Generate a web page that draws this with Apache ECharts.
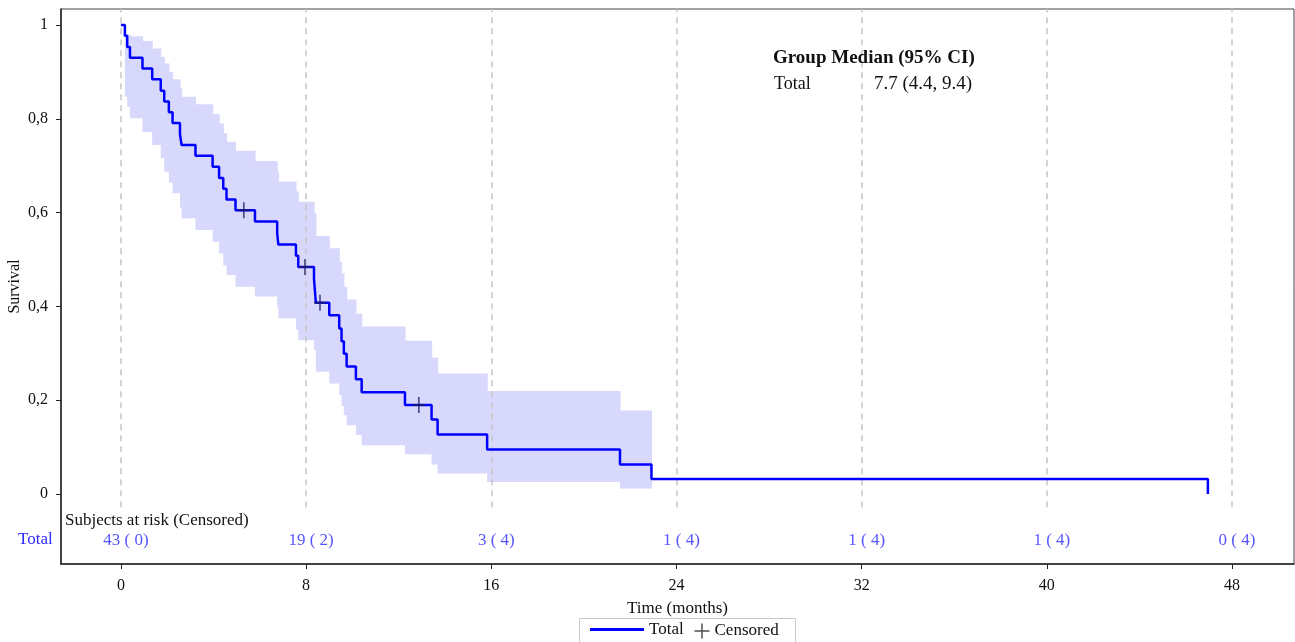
<!DOCTYPE html>
<html>
<head>
<meta charset="utf-8">
<script src="https://cdn.jsdelivr.net/npm/echarts@6/dist/echarts.min.js"></script>
<style>
  html, body { margin: 0; padding: 0; background: #fff; }
  #main { width: 1295px; height: 642px; }
</style>
</head>
<body>
<div id="main"></div>
<script>
// Kaplan-Meier data
var kmTimes = [0, 0.17, 0.27, 0.39, 0.93, 1.35, 1.72, 1.87, 2.07, 2.23, 2.55, 2.62, 3.22, 3.96, 4.24,
    4.42, 4.56, 4.95, 5.79, 6.75, 6.8, 7.56, 7.66, 8.34, 8.42, 9.0, 9.43, 9.53, 9.63, 9.75,
    10.15, 10.4, 12.27, 13.42, 13.68, 15.82, 21.56, 22.92, 46.96];
var kmSurv = [1, 0.977, 0.953, 0.930, 0.907, 0.884, 0.860, 0.837, 0.814, 0.791, 0.767, 0.744, 0.721, 0.698, 0.674,
    0.651, 0.628, 0.605, 0.581, 0.556, 0.532, 0.508, 0.484, 0.459, 0.408, 0.381, 0.353, 0.326, 0.299, 0.272,
    0.245, 0.217, 0.190, 0.159, 0.127, 0.095, 0.063, 0.032, 0];

// 95% CI band (steps), last time closes the band
var ciTimes = [0.17, 0.27, 0.39, 0.93, 1.35, 1.72, 1.87, 2.07, 2.23, 2.55, 2.62, 3.22, 3.96, 4.24,
    4.42, 4.56, 4.95, 5.79, 6.75, 6.8, 7.56, 7.66, 8.34, 8.42, 9.0, 9.43, 9.53, 9.63, 9.75,
    10.15, 10.4, 12.27, 13.42, 13.68, 15.82, 21.56, 22.92];
var ciLower = [0.847, 0.825, 0.801, 0.772, 0.744, 0.716, 0.687, 0.664, 0.641, 0.611, 0.588, 0.563, 0.538, 0.513,
    0.488, 0.467, 0.442, 0.421, 0.398, 0.375, 0.350, 0.328, 0.307, 0.261, 0.236, 0.211, 0.188, 0.168, 0.147,
    0.126, 0.104, 0.085, 0.063, 0.044, 0.026, 0.012];
var ciUpper = [0.98, 0.98, 0.976, 0.966, 0.950, 0.932, 0.918, 0.900, 0.884, 0.865, 0.847, 0.831, 0.810, 0.790,
    0.769, 0.751, 0.732, 0.710, 0.688, 0.666, 0.645, 0.623, 0.598, 0.550, 0.524, 0.495, 0.470, 0.442, 0.415,
    0.385, 0.357, 0.327, 0.291, 0.257, 0.220, 0.178];

// censored marks
var censorTimes = [5.31, 7.95, 8.6, 12.87];
var censorSurv = [0.605, 0.484, 0.408, 0.190];

// axes and risk table
var timeTicks = [0, 8, 16, 24, 32, 40, 48];
var survTicks = [0, 0.2, 0.4, 0.6, 0.8, 1];
var riskLabels = ['43 ( 0)', '19 ( 2)', '3 ( 4)', '1 ( 4)', '1 ( 4)', '1 ( 4)', '0 ( 4)'];

var FONT = 'Liberation Serif';
var PLUS = 'path://M8,0 L8,16 M0,8 L16,8';
var chart = echarts.init(document.getElementById('main'));

function zip(a, b) {
    return a.map(function (v, i) { return [v, b[i]]; });
}

// one rect per CI step: [start, end, lower, upper]
var bandData = ciLower.map(function (lo, i) {
    return [ciTimes[i], ciTimes[i + 1], lo, ciUpper[i]];
});

chart.setOption({
    animation: false,
    backgroundColor: '#fff',
    grid: {
        left: 61, right: 1, top: 9, bottom: 78,
        outerBoundsMode: 'none',
        containLabel: false,
        show: true, borderColor: '#444', borderWidth: 1
    },
    legend: [{
        left: 590, top: 621, padding: 0,
        itemWidth: 54, itemHeight: 3,
        data: [{ name: 'Total', icon: 'rect' }],
        textStyle: { fontFamily: FONT, fontSize: 17, color: '#111' }
    }, {
        left: 692, top: 621, padding: 0,
        itemWidth: 15, itemHeight: 15,
        data: [{ name: 'Censored', icon: PLUS }],
        itemStyle: { color: 'none', borderColor: '#222', borderWidth: 1.5 },
        textStyle: { fontFamily: FONT, fontSize: 17, color: '#111' }
    }],
    xAxis: {
        type: 'value',
        min: -2.59, max: 50.68,
        name: 'Time (months)',
        nameLocation: 'middle',
        nameGap: 36,
        nameTextStyle: { fontFamily: FONT, fontSize: 17, color: '#111' },
        axisLine: { onZero: false, lineStyle: { color: '#222', width: 1.5 } },
        axisTick: { customValues: timeTicks, length: 5, lineStyle: { color: '#222' } },
        axisLabel: { customValues: timeTicks, margin: 14, fontFamily: FONT, fontSize: 16, color: '#111' },
        splitLine: { show: false }
    },
    yAxis: {
        type: 'value',
        min: -0.149, max: 1.034,
        name: 'Survival',
        nameLocation: 'middle',
        nameGap: 38,
        nameMoveOverlap: false,
        nameTextStyle: { fontFamily: FONT, fontSize: 16, color: '#111' },
        axisLine: { onZero: false, lineStyle: { color: '#222', width: 1.5 } },
        axisTick: { customValues: survTicks, length: 5, lineStyle: { color: '#222' } },
        axisLabel: {
            customValues: survTicks, margin: 13, fontFamily: FONT, fontSize: 16, color: '#111',
            formatter: function (v) { return String(v).replace('.', ','); }
        },
        splitLine: { show: false }
    },
    graphic: [
        { type: 'text', left: 65, top: 512, z: 100, style: { text: 'Subjects at risk (Censored)', font: '17px "Liberation Serif"', fill: '#111' } },
        { type: 'text', left: 18, top: 531, z: 100, style: { text: 'Total', font: '17px "Liberation Serif"', fill: '#2a2aff' } },
        { type: 'text', left: 773, top: 49, z: 100, style: { text: 'Group Median (95% CI)', font: 'bold 19px "Liberation Serif"', fill: '#111' } },
        { type: 'text', left: 774, top: 75, z: 100, style: { text: 'Total', font: '18px "Liberation Serif"', fill: '#111' } },
        { type: 'text', left: 874, top: 75, z: 100, style: { text: '7.7 (4.4, 9.4)', font: '19px "Liberation Serif"', fill: '#111' } },
        { type: 'rect', left: 577, top: 616, z: 0, shape: { width: 216, height: 30 }, style: { fill: 'none', stroke: '#c8c8c8', lineWidth: 1 } }
    ],
    series: [{
        name: 'ci',
        type: 'custom',
        silent: true,
        z: 1,
        encode: { x: [0, 1], y: [2, 3] },
        renderItem: function (params, api) {
            var p1 = api.coord([api.value(0), api.value(3)]);
            var p2 = api.coord([api.value(1), api.value(2)]);
            return {
                type: 'rect',
                shape: { x: p1[0], y: p1[1], width: p2[0] - p1[0] + 0.6, height: p2[1] - p1[1] },
                style: { fill: '#d8d8fc' }
            };
        },
        data: bandData
    }, {
        name: 'Total',
        type: 'line',
        step: 'end',
        symbol: 'none',
        color: '#0000ff',
        lineStyle: { color: '#0000ff', width: 2.5 },
        z: 5,
        data: zip(kmTimes, kmSurv),
        markLine: {
            silent: true,
            symbol: 'none',
            label: { show: false },
            lineStyle: { color: '#c6c6c6', width: 1.5, type: [6, 5] },
            data: timeTicks.map(function (t) {
                return [{ coord: [t, -0.028] }, { coord: [t, 1.034] }];
            })
        }
    }, {
        name: 'Censored',
        type: 'scatter',
        symbol: PLUS,
        symbolSize: [12, 16],
        itemStyle: { color: 'none', borderColor: '#1c1c66', borderWidth: 1.8 },
        z: 6,
        data: zip(censorTimes, censorSurv)
    }, {
        name: 'risk',
        type: 'scatter',
        symbolSize: 0,
        silent: true,
        label: {
            show: true,
            position: 'inside',
            offset: [5, 0],
            fontFamily: FONT,
            fontSize: 17,
            color: '#2a2aff',
            formatter: function (p) { return riskLabels[p.dataIndex]; }
        },
        data: timeTicks.map(function (t) { return [t, -0.098]; })
    }]
});
</script>
</body>
</html>
